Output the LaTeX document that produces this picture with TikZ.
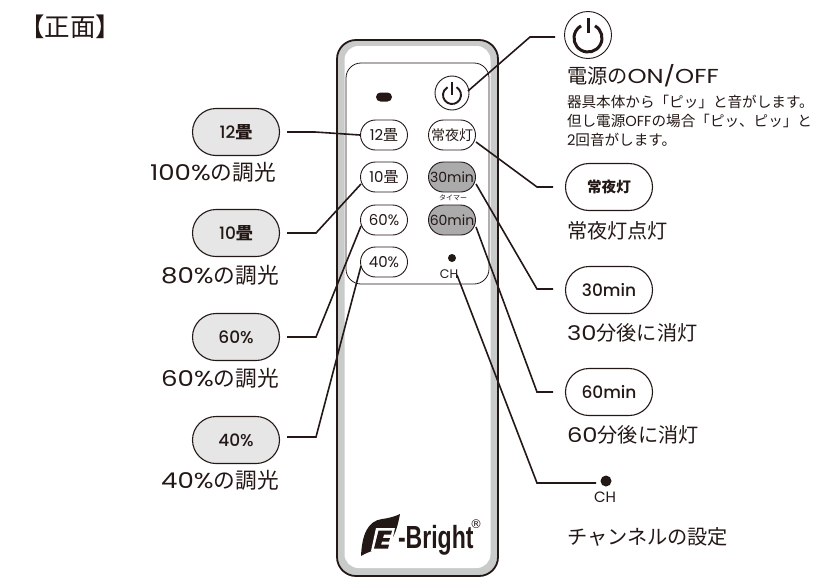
\documentclass[tikz,border=0pt]{standalone}
\usepackage{fontspec}
\setmainfont{Noto Sans CJK JP}
\newfontfamily\pop{Poppins}
\newfontfamily\popw[FakeStretch=1.2]{Poppins}
\newfontfamily\popm{Poppins Medium}
\newfontfamily\regfont{DejaVu Sans}
\newfontfamily\logofont[FakeStretch=0.72]{Liberation Sans Bold}
\usetikzlibrary{calc,shapes.misc}
\definecolor{ink}{HTML}{231815}
\definecolor{bandgray}{HTML}{C9CACA}
\definecolor{pillgray}{HTML}{E6E6E6}
\definecolor{btngray}{HTML}{ABABAB}
\tikzset{
  x=1pt,y=-1pt,
  every node/.style={text=ink,inner sep=0pt,outer sep=0pt},
  bigpill/.style={rounded rectangle,draw=ink,line width=1.1pt,minimum width=87pt,minimum height=47pt,font=\fontsize{17}{17}\selectfont},
  smallpill/.style={rounded rectangle,draw=ink,line width=0.9pt,fill=white,minimum width=47pt,minimum height=30pt,font=\fontsize{15}{15}\selectfont},
  conn/.style={draw=ink,line width=1.6pt},
  lab/.style={font=\fontsize{20.2}{20.2}\selectfont,anchor=center},
  llab/.style={font=\fontsize{21.7}{21.7}\selectfont,anchor=center},
  note/.style={font=\fontsize{14.6}{14.6}\selectfont,anchor=west},
  blackdot/.style={circle,fill=ink,minimum size=#1}
}
\begin{document}
\begin{tikzpicture}
\useasboundingbox (0,0) rectangle (821,581);
\fill[white] (0,0) rectangle (821,581);
\node[font=\fontsize{25.5}{25.5}\selectfont] (title) at (70,27) {【正面】};
% remote body
\draw[ink,line width=1.8pt,fill=bandgray,rounded corners=19pt] (337,40) rectangle (498,576);
\fill[white,rounded corners=14pt] (344.5,46) rectangle (490.5,568);
\draw[ink,line width=0.8pt,rounded corners=15pt] (346,63) rectangle (489,284);
% small buttons
\node[smallpill] (b12) at (384,135) {{\pop 12}畳};
\node[smallpill] (b10) at (384,177) {{\pop 10}畳};
\node[smallpill] (b60) at (384,220) {{\pop 60\%}};
\node[smallpill] (b40) at (384,262) {{\pop 40\%}};
\node[smallpill,font=\fontsize{14}{14}\selectfont] (bn) at (452,135) {常夜灯};
\node[smallpill,fill=btngray,font=\fontsize{14}{14}\selectfont] (b30m) at (452,177) {{\pop 30min}};
\node[smallpill,fill=btngray,font=\fontsize{14}{14}\selectfont] (b60m) at (452,220) {{\pop 60min}};
\node[font=\fontsize{7}{7}\selectfont] (timer) at (453,198) {タイマー};
\node[circle,draw=ink,line width=0.9pt,fill=white,minimum size=34pt] (pw) at (452,93) {};
\draw[ink,line width=1.9pt] ([shift={(60:9pt)}]452,95) arc[start angle=60,end angle=-240,radius=9pt];
\draw[ink,line width=1.9pt] (452,82) -- (452,95);
\node[fill=ink,rounded rectangle,minimum width=16pt,minimum height=9pt] (led) at (384,97) {};
\node[blackdot=8pt] (chd) at (452,258) {};
\node[font=\fontsize{12.5}{12.5}\selectfont\pop] (cht) at (449,274) {CH};
% logo: leaf with a white-edged block E
\fill[ink] (361,556) .. controls (362,534) and (368,521) .. (382,519) .. controls (390,518) and (396,516) .. (400,514)
  .. controls (397,530) and (393,545) .. (379,549) .. controls (371,551) and (366,553) .. (361,556) -- cycle;
\fill[white] (371,551) -- (376,528) -- (395,528) -- (393,537) -- (392,551) -- cycle;
\fill[ink] (374,548.5) -- (378.5,530.5) -- (392,530.5) -- (391,534.5) -- (384,534.5) -- (383,538) -- (390,538) -- (389,541.5) -- (382,541.5) -- (381,544.5) -- (389,544.5) -- (388,548.5) -- cycle;
\node[font=\fontsize{32}{32}\selectfont\logofont,anchor=base west] (logo) at (398,548) {-Bright};
\node[font=\fontsize{12}{12}\selectfont\regfont] (reg) at (476,524) {®};
% left pills
\node[bigpill,fill=pillgray] (p12) at (236,132) {{\popm 12}\bfseries 畳};
\node[bigpill,fill=pillgray] (p10) at (236,233) {{\popm 10}\bfseries 畳};
\node[bigpill,fill=pillgray] (p60) at (236,337) {{\popm 60\%}};
\node[bigpill,fill=pillgray] (p40) at (236,440) {{\popm 40\%}};
\node[llab] (l12) at (213,172) {{\popw 100\%}の調光};
\node[llab] (l10) at (220,275) {{\popw 80\%}の調光};
\node[llab] (l60) at (220,378) {{\popw 60\%}の調光};
\node[llab] (l40) at (220,480) {{\popw 40\%}の調光};
% right pills
\node[circle,draw=ink,line width=0.9pt,minimum size=47pt] (bigpw) at (588,35) {};
\draw[ink,line width=3pt] ([shift={(60:14pt)}]588,38) arc[start angle=60,end angle=-240,radius=14pt];
\draw[ink,line width=3pt] (588,18) -- (588,33);
\node[bigpill] (pn) at (609,187) {\fontsize{14.6}{14.6}\selectfont\bfseries 常夜灯};
\node[bigpill] (p30) at (609,290) {{\popm 30min}};
\node[bigpill] (p60r) at (609,392) {{\popm 60min}};
\node[font=\fontsize{20.2}{20.2}\selectfont,anchor=west] (tpw) at (567,76) {電源の{\popw ON/OFF}};
\node[note] (n1) at (567,102) {器具本体から「ピッ」と音がします。};
\node[note] (n2) at (567,121) {但し電源{\pop OFF}の場合「ピッ、ピッ」と};
\node[note] (n3) at (567,140) {{\pop 2}回音がします。};
\node[lab,anchor=west] (tn) at (567,231) {常夜灯点灯};
\node[lab,anchor=west] (t30) at (567,333) {{\popw 30}分後に消灯};
\node[lab,anchor=west] (t60) at (567,435) {{\popw 60}分後に消灯};
\node[blackdot=11pt] (dch) at (606,481) {};
\node[font=\fontsize{15}{15}\selectfont\pop] (tch) at (605,497) {CH};
\node[lab,anchor=west,font=\fontsize{20.2}{20.2}\selectfont] (tset) at (567,537) {チャンネルの設定};
% connector ends
\coordinate (c1a) at (287,132); \coordinate (c1b) at (315,132); \coordinate (c1c) at (360,135);
\coordinate (c2a) at (287,233); \coordinate (c2b) at (316,233); \coordinate (c2c) at (361,184);
\coordinate (c3a) at (287,337); \coordinate (c3b) at (316,337); \coordinate (c3c) at (361,226);
\coordinate (c4a) at (287,437); \coordinate (c4b) at (316,437); \coordinate (c4c) at (361,266);
\coordinate (r1a) at (555,37); \coordinate (r1b) at (530,37); \coordinate (r1c) at (468,91);
\coordinate (r2a) at (476,142); \coordinate (r2b) at (537,187); \coordinate (r2c) at (553,187);
\coordinate (r3a) at (476,184); \coordinate (r3b) at (537,289); \coordinate (r3c) at (553,289);
\coordinate (r4a) at (476,227); \coordinate (r4b) at (537,392); \coordinate (r4c) at (553,392);
\coordinate (r5a) at (457,275); \coordinate (r5b) at (537,483); \coordinate (r5c) at (596,483);
\draw[conn] (c1a) -- (c1b) -- (c1c);
\draw[conn] (c2a) -- (c2b) -- (c2c);
\draw[conn] (c3a) -- (c3b) -- (c3c);
\draw[conn] (c4a) -- (c4b) -- (c4c);
\draw[conn] (r1a) -- (r1b) -- (r1c);
\draw[conn] (r2a) -- (r2b) -- (r2c);
\draw[conn] (r3a) -- (r3b) -- (r3c);
\draw[conn] (r4a) -- (r4b) -- (r4c);
\draw[conn] (r5a) -- (r5b) -- (r5c);
\end{tikzpicture}
\end{document}
